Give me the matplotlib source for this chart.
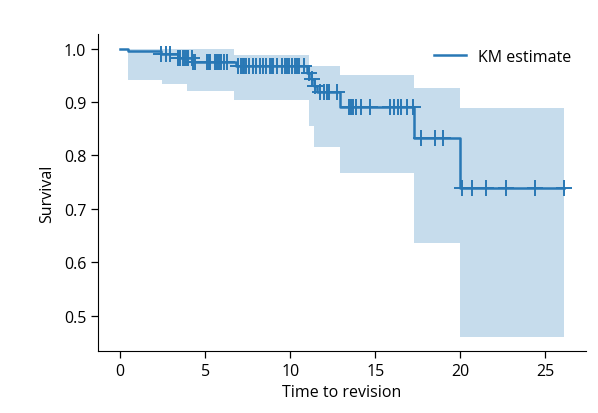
import numpy as np
import matplotlib
matplotlib.use("Agg")
import matplotlib.pyplot as plt

plt.rcParams['font.family'] = ['Open Sans', 'DejaVu Sans']

# Kaplan-Meier step estimate
event_times = [0, 0.45, 2.4, 3.4, 4.3, 6.8, 11.0, 11.2, 11.4, 11.6, 12.9, 17.3, 20.0]
survival = [1.0, 0.995, 0.989, 0.983, 0.975, 0.968, 0.955, 0.943, 0.930, 0.918, 0.891, 0.832, 0.739]
end_time = 26.1

# confidence band
ci_times = [0, 0.45, 2.45, 3.9, 6.7, 11.1, 11.4, 12.9, 17.3, 20.0]
ci_upper = [1.0, 0.999, 0.999, 0.999, 0.9875, 0.968, 0.968, 0.950, 0.927, 0.888]
ci_lower = [1.0, 0.942, 0.934, 0.920, 0.904, 0.855, 0.815, 0.768, 0.636, 0.461]

# censored observations
censor_times = [2.4, 2.7, 2.9, 3.4, 3.5, 3.7, 3.8, 3.9, 4.0, 4.2, 4.3, 4.4,
                5.1, 5.2, 5.3, 5.6, 5.7, 5.8, 5.9, 6.1, 6.3,
                6.9, 7.1, 7.2, 7.3, 7.4, 7.6, 7.8, 8.0, 8.2, 8.4, 8.6, 8.8, 8.9,
                9.0, 9.2, 9.5, 9.7, 9.8, 9.9, 10.1, 10.3, 10.4, 10.5, 10.8,
                11.1, 11.3, 11.45, 11.76, 11.96, 12.16, 12.3, 12.75,
                13.43, 13.57, 13.69, 13.86, 14.16, 14.7, 15.88, 16.08, 16.33,
                16.53, 16.9, 17.25, 17.7, 18.5, 19.0,
                20.12, 20.7, 21.5, 22.7, 24.4, 26.1]

t_line = np.array(event_times + [end_time])
s_line = np.array(survival + [survival[-1]])
t_ci = np.array(ci_times + [end_time])
up = np.array(ci_upper + [ci_upper[-1]])
lo = np.array(ci_lower + [ci_lower[-1]])

idx = np.searchsorted(event_times, censor_times, side='right') - 1
s_cens = np.array(survival)[idx]

fig, ax = plt.subplots(figsize=(5.98, 4.14), dpi=100)
fig.subplots_adjust(left=0.164, right=0.98, bottom=0.15, top=0.915)

ax.fill_between(t_ci, lo, up, step='post', color='C0', alpha=0.25, linewidth=0)
ax.step(t_line, s_line, where='post', color='#2878b5', lw=1.8, label='KM estimate')
ax.plot(censor_times, s_cens, '+', ms=12, mew=1.4, color='#2878b5', ls='none')

ax.set_xticks([0, 5, 10, 15, 20, 25])
ax.set_yticks([0.5, 0.6, 0.7, 0.8, 0.9, 1.0])
ax.tick_params(labelsize=11.5, length=5, width=0.9)
ax.spines['top'].set_visible(False)
ax.spines['right'].set_visible(False)

ax.set_xlabel("Time to revision", fontsize=11.5)
ax.set_ylabel("Survival", fontsize=11.5, labelpad=6)
ax.legend(loc='upper right', frameon=False, fontsize=11.5)

fig.savefig("out.png", dpi=100)
